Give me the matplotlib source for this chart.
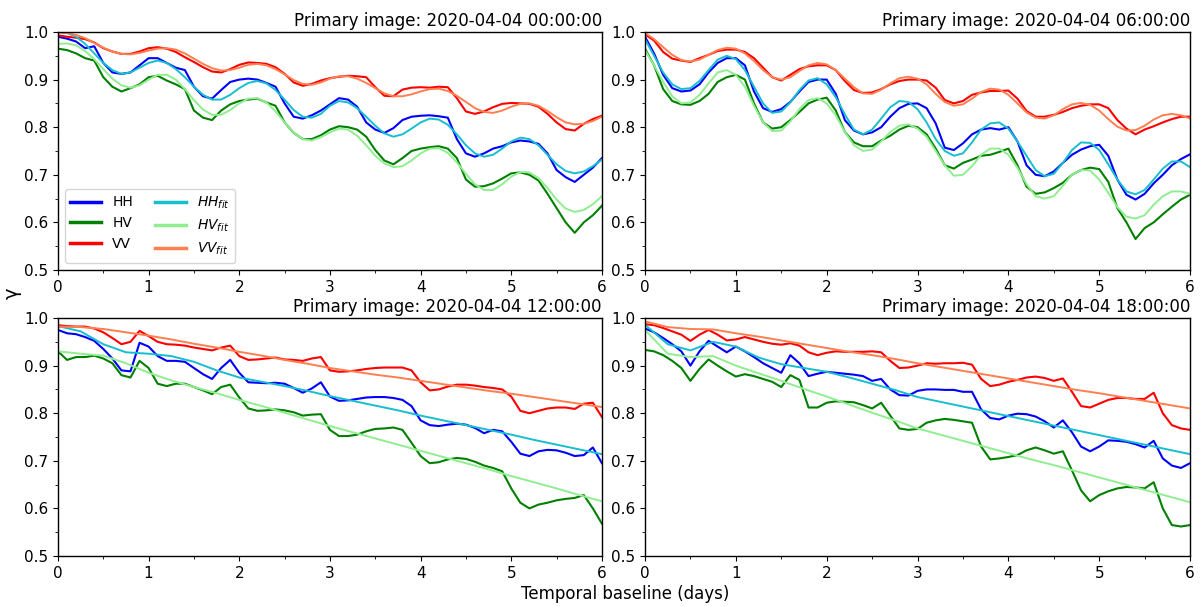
import numpy as np
import matplotlib
matplotlib.use("Agg")
import matplotlib.pyplot as plt
from matplotlib.ticker import MultipleLocator

# time axes (days)
t_obs = np.round(np.arange(61) * 0.1, 2)
t_fit_top = np.round(np.arange(61) * 0.1, 2)
t_fit_bot = np.round(np.arange(25) * 0.25, 2)

titles = ["Primary image: 2020-04-04 00:00:00", "Primary image: 2020-04-04 06:00:00",
          "Primary image: 2020-04-04 12:00:00", "Primary image: 2020-04-04 18:00:00"]

# ---- 00:00 ----
hh_00 = [0.990, 0.986, 0.980, 0.966, 0.970, 0.935, 0.915, 0.912, 0.915, 0.930,
         0.945, 0.945, 0.935, 0.925, 0.920, 0.885, 0.865, 0.860, 0.878, 0.895,
         0.900, 0.902, 0.900, 0.893, 0.885, 0.850, 0.822, 0.818, 0.825, 0.835,
         0.848, 0.861, 0.858, 0.843, 0.810, 0.795, 0.788, 0.798, 0.815, 0.822,
         0.824, 0.825, 0.823, 0.820, 0.775, 0.745, 0.738, 0.745, 0.755, 0.760,
         0.768, 0.772, 0.770, 0.765, 0.745, 0.710, 0.695, 0.685, 0.700, 0.715,
         0.735]
hv_00 = [0.965, 0.962, 0.955, 0.945, 0.940, 0.905, 0.885, 0.875, 0.882, 0.890,
         0.905, 0.908, 0.898, 0.890, 0.880, 0.835, 0.820, 0.815, 0.835, 0.848,
         0.855, 0.858, 0.860, 0.852, 0.845, 0.810, 0.788, 0.775, 0.775, 0.783,
         0.795, 0.802, 0.800, 0.795, 0.780, 0.752, 0.730, 0.722, 0.735, 0.750,
         0.755, 0.758, 0.760, 0.755, 0.735, 0.690, 0.675, 0.676, 0.682, 0.692,
         0.703, 0.705, 0.700, 0.688, 0.660, 0.630, 0.600, 0.578, 0.600, 0.615,
         0.635]
vv_00 = [0.993, 0.990, 0.988, 0.985, 0.978, 0.966, 0.959, 0.954, 0.954, 0.959,
         0.966, 0.968, 0.965, 0.958, 0.947, 0.937, 0.926, 0.917, 0.915, 0.922,
         0.931, 0.936, 0.935, 0.933, 0.926, 0.912, 0.894, 0.887, 0.891, 0.898,
         0.903, 0.906, 0.908, 0.907, 0.905, 0.884, 0.866, 0.865, 0.879, 0.883,
         0.884, 0.883, 0.885, 0.884, 0.861, 0.833, 0.828, 0.833, 0.842, 0.849,
         0.851, 0.850, 0.849, 0.843, 0.828, 0.810, 0.796, 0.793, 0.807, 0.817,
         0.824]
hh_fit_00 = [1.000, 0.998, 0.990, 0.975, 0.955, 0.935, 0.920, 0.912, 0.915, 0.925,
             0.935, 0.940, 0.935, 0.922, 0.905, 0.885, 0.868, 0.858, 0.858, 0.868,
             0.882, 0.893, 0.897, 0.892, 0.878, 0.858, 0.836, 0.822, 0.820, 0.828,
             0.845, 0.855, 0.852, 0.840, 0.822, 0.803, 0.787, 0.780, 0.785, 0.797,
             0.810, 0.818, 0.816, 0.805, 0.785, 0.762, 0.745, 0.738, 0.742, 0.755,
             0.770, 0.778, 0.775, 0.762, 0.742, 0.722, 0.708, 0.703, 0.707, 0.718,
             0.732]
hv_fit_00 = [0.975, 0.976, 0.972, 0.960, 0.943, 0.922, 0.902, 0.888, 0.883, 0.888,
             0.900, 0.910, 0.910, 0.900, 0.880, 0.857, 0.837, 0.826, 0.826, 0.836,
             0.850, 0.860, 0.861, 0.852, 0.833, 0.810, 0.788, 0.775, 0.772, 0.779,
             0.789, 0.797, 0.795, 0.782, 0.762, 0.740, 0.724, 0.716, 0.718, 0.730,
             0.745, 0.755, 0.756, 0.746, 0.726, 0.702, 0.680, 0.668, 0.668, 0.680,
             0.696, 0.706, 0.705, 0.693, 0.672, 0.648, 0.629, 0.622, 0.626, 0.638,
             0.655]
vv_fit_00 = [0.999, 0.998, 0.994, 0.987, 0.977, 0.967, 0.959, 0.954, 0.953, 0.956,
             0.961, 0.965, 0.966, 0.963, 0.955, 0.944, 0.933, 0.924, 0.919, 0.920,
             0.925, 0.931, 0.933, 0.930, 0.922, 0.911, 0.899, 0.891, 0.889, 0.894,
             0.902, 0.907, 0.907, 0.902, 0.893, 0.882, 0.871, 0.865, 0.865, 0.869,
             0.875, 0.880, 0.881, 0.876, 0.866, 0.853, 0.840, 0.832, 0.830, 0.835,
             0.843, 0.849, 0.850, 0.845, 0.834, 0.821, 0.810, 0.806, 0.807, 0.813,
             0.822]

# ---- 06:00 ----
hh_06 = [0.990, 0.955, 0.910, 0.882, 0.875, 0.877, 0.890, 0.915, 0.935, 0.945,
         0.945, 0.930, 0.875, 0.840, 0.832, 0.838, 0.853, 0.875, 0.895, 0.900,
         0.900, 0.870, 0.815, 0.793, 0.785, 0.789, 0.800, 0.822, 0.840, 0.849,
         0.850, 0.840, 0.808, 0.757, 0.752, 0.766, 0.785, 0.795, 0.798, 0.795,
         0.800, 0.770, 0.720, 0.700, 0.697, 0.707, 0.725, 0.742, 0.753, 0.760,
         0.763, 0.740, 0.690, 0.658, 0.648, 0.660, 0.682, 0.700, 0.720, 0.733,
         0.743]
hv_06 = [0.965, 0.930, 0.880, 0.855, 0.848, 0.847, 0.855, 0.870, 0.895, 0.905,
         0.910, 0.900, 0.850, 0.810, 0.797, 0.800, 0.815, 0.832, 0.850, 0.858,
         0.862, 0.835, 0.790, 0.768, 0.760, 0.760, 0.772, 0.782, 0.795, 0.803,
         0.800, 0.785, 0.755, 0.720, 0.713, 0.725, 0.732, 0.740, 0.742, 0.748,
         0.755, 0.720, 0.675, 0.660, 0.663, 0.672, 0.683, 0.700, 0.710, 0.715,
         0.712, 0.685, 0.630, 0.600, 0.565, 0.588, 0.600, 0.617, 0.633, 0.648,
         0.658]
vv_06 = [0.995, 0.982, 0.958, 0.944, 0.940, 0.937, 0.945, 0.952, 0.960, 0.963,
         0.963, 0.958, 0.945, 0.925, 0.905, 0.898, 0.910, 0.922, 0.928, 0.930,
         0.930, 0.920, 0.897, 0.878, 0.872, 0.873, 0.880, 0.890, 0.897, 0.900,
         0.900, 0.898, 0.883, 0.857, 0.850, 0.855, 0.868, 0.873, 0.876, 0.876,
         0.877, 0.860, 0.834, 0.822, 0.822, 0.826, 0.832, 0.840, 0.845, 0.848,
         0.848, 0.840, 0.815, 0.797, 0.785, 0.795, 0.802, 0.810, 0.817, 0.822,
         0.822]
hh_fit_06 = [0.985, 0.950, 0.915, 0.890, 0.880, 0.882, 0.897, 0.920, 0.942, 0.950,
             0.943, 0.920, 0.885, 0.850, 0.830, 0.833, 0.852, 0.878, 0.898, 0.903,
             0.890, 0.863, 0.827, 0.795, 0.785, 0.795, 0.818, 0.842, 0.855, 0.853,
             0.838, 0.810, 0.775, 0.750, 0.740, 0.745, 0.768, 0.795, 0.808, 0.810,
             0.797, 0.770, 0.740, 0.710, 0.697, 0.702, 0.725, 0.752, 0.768, 0.767,
             0.752, 0.722, 0.690, 0.665, 0.659, 0.668, 0.690, 0.713, 0.728, 0.728,
             0.716]
hv_fit_06 = [0.962, 0.930, 0.895, 0.865, 0.850, 0.852, 0.868, 0.892, 0.915, 0.920,
             0.910, 0.885, 0.845, 0.810, 0.792, 0.793, 0.812, 0.838, 0.857, 0.861,
             0.850, 0.825, 0.790, 0.762, 0.750, 0.753, 0.770, 0.790, 0.803, 0.806,
             0.797, 0.780, 0.750, 0.720, 0.698, 0.700, 0.718, 0.742, 0.755, 0.755,
             0.742, 0.715, 0.680, 0.655, 0.650, 0.655, 0.677, 0.700, 0.710, 0.709,
             0.690, 0.662, 0.632, 0.612, 0.608, 0.615, 0.637, 0.655, 0.665, 0.665,
             0.660]
vv_fit_06 = [0.998, 0.985, 0.968, 0.952, 0.941, 0.938, 0.942, 0.952, 0.962, 0.967,
             0.965, 0.955, 0.939, 0.920, 0.905, 0.900, 0.905, 0.918, 0.930, 0.935,
             0.932, 0.920, 0.902, 0.884, 0.871, 0.870, 0.879, 0.892, 0.903, 0.906,
             0.902, 0.890, 0.870, 0.853, 0.845, 0.848, 0.860, 0.874, 0.881, 0.879,
             0.868, 0.850, 0.831, 0.820, 0.818, 0.825, 0.838, 0.848, 0.851, 0.847,
             0.835, 0.817, 0.801, 0.793, 0.794, 0.803, 0.816, 0.825, 0.828, 0.825,
             0.818]

# ---- 12:00 ----
hh_12 = [0.975, 0.968, 0.966, 0.960, 0.952, 0.935, 0.915, 0.890, 0.888, 0.948,
         0.940, 0.920, 0.910, 0.910, 0.908, 0.895, 0.882, 0.872, 0.895, 0.912,
         0.885, 0.865, 0.864, 0.863, 0.864, 0.862, 0.853, 0.843, 0.852, 0.865,
         0.835, 0.826, 0.827, 0.830, 0.833, 0.834, 0.834, 0.832, 0.828, 0.815,
         0.785, 0.775, 0.773, 0.776, 0.778, 0.776, 0.769, 0.758, 0.765, 0.762,
         0.740, 0.715, 0.710, 0.720, 0.723, 0.722, 0.717, 0.710, 0.712, 0.728,
         0.695]
hv_12 = [0.930, 0.912, 0.918, 0.918, 0.921, 0.915, 0.905, 0.880, 0.875, 0.910,
         0.895, 0.862, 0.857, 0.862, 0.862, 0.855, 0.848, 0.840, 0.855, 0.860,
         0.833, 0.810, 0.805, 0.806, 0.808, 0.806, 0.802, 0.795, 0.797, 0.798,
         0.765, 0.752, 0.752, 0.755, 0.762, 0.767, 0.768, 0.770, 0.765, 0.738,
         0.710, 0.695, 0.697, 0.703, 0.706, 0.704, 0.698, 0.690, 0.685, 0.678,
         0.642, 0.612, 0.600, 0.608, 0.612, 0.617, 0.620, 0.622, 0.628, 0.600,
         0.568]
vv_12 = [0.985, 0.983, 0.982, 0.982, 0.978, 0.970, 0.958, 0.945, 0.950, 0.973,
         0.962, 0.950, 0.945, 0.944, 0.942, 0.938, 0.935, 0.932, 0.938, 0.942,
         0.920, 0.912, 0.913, 0.915, 0.917, 0.913, 0.912, 0.910, 0.915, 0.918,
         0.890, 0.887, 0.888, 0.890, 0.893, 0.895, 0.896, 0.896, 0.896, 0.890,
         0.865, 0.848, 0.850, 0.856, 0.860, 0.860, 0.858, 0.855, 0.853, 0.850,
         0.835, 0.805, 0.800, 0.805, 0.810, 0.812, 0.812, 0.809, 0.820, 0.822,
         0.792]
hh_fit_12 = [0.983, 0.972, 0.945, 0.928, 0.925, 0.920, 0.908, 0.890, 0.875, 0.866,
             0.857, 0.847, 0.836, 0.826, 0.816, 0.806, 0.795, 0.785, 0.775, 0.765,
             0.755, 0.744, 0.734, 0.724, 0.714]
hv_fit_12 = [0.930, 0.925, 0.921, 0.905, 0.885, 0.869, 0.855, 0.842, 0.828, 0.815,
             0.801, 0.787, 0.773, 0.760, 0.747, 0.734, 0.721, 0.708, 0.695, 0.682,
             0.668, 0.655, 0.642, 0.628, 0.615]
vv_fit_12 = [0.982, 0.981, 0.977, 0.970, 0.963, 0.955, 0.946, 0.938, 0.929, 0.921,
             0.912, 0.904, 0.895, 0.888, 0.881, 0.875, 0.868, 0.861, 0.854, 0.847,
             0.841, 0.834, 0.827, 0.820, 0.813]

# ---- 18:00 ----
hh_18 = [0.978, 0.970, 0.958, 0.945, 0.930, 0.900, 0.930, 0.952, 0.940, 0.928,
         0.940, 0.930, 0.918, 0.905, 0.895, 0.885, 0.922, 0.905, 0.878, 0.883,
         0.887, 0.885, 0.883, 0.881, 0.878, 0.868, 0.872, 0.850, 0.838, 0.837,
         0.847, 0.850, 0.850, 0.849, 0.849, 0.845, 0.845, 0.808, 0.790, 0.787,
         0.795, 0.799, 0.798, 0.793, 0.783, 0.770, 0.785, 0.760, 0.730, 0.720,
         0.730, 0.743, 0.742, 0.740, 0.735, 0.728, 0.742, 0.705, 0.690, 0.685,
         0.695]
hv_18 = [0.933, 0.930, 0.922, 0.910, 0.895, 0.868, 0.893, 0.913, 0.900, 0.888,
         0.877, 0.882, 0.878, 0.872, 0.866, 0.855, 0.880, 0.870, 0.812, 0.812,
         0.822, 0.825, 0.824, 0.823, 0.817, 0.810, 0.822, 0.795, 0.768, 0.765,
         0.767, 0.780, 0.785, 0.788, 0.786, 0.783, 0.780, 0.730, 0.703, 0.705,
         0.708, 0.712, 0.722, 0.728, 0.722, 0.715, 0.720, 0.680, 0.638, 0.615,
         0.628, 0.636, 0.642, 0.645, 0.644, 0.642, 0.655, 0.600, 0.565, 0.562,
         0.565]
vv_18 = [0.987, 0.985, 0.979, 0.972, 0.965, 0.952, 0.965, 0.975, 0.965, 0.953,
         0.955, 0.960, 0.955, 0.950, 0.946, 0.944, 0.947, 0.942, 0.928, 0.922,
         0.927, 0.930, 0.929, 0.929, 0.929, 0.930, 0.928, 0.910, 0.895, 0.896,
         0.900, 0.905, 0.904, 0.905, 0.905, 0.906, 0.902, 0.872, 0.857, 0.860,
         0.866, 0.870, 0.875, 0.877, 0.874, 0.868, 0.873, 0.845, 0.815, 0.812,
         0.820, 0.828, 0.832, 0.832, 0.830, 0.830, 0.843, 0.800, 0.775, 0.768,
         0.765]
hh_fit_18 = [0.986, 0.945, 0.932, 0.950, 0.940, 0.917, 0.903, 0.895, 0.887, 0.875,
             0.862, 0.849, 0.834, 0.824, 0.814, 0.804, 0.794, 0.784, 0.774, 0.764,
             0.754, 0.744, 0.734, 0.724, 0.714]
hv_fit_18 = [0.975, 0.925, 0.918, 0.920, 0.900, 0.884, 0.868, 0.851, 0.835, 0.818,
             0.801, 0.785, 0.768, 0.755, 0.742, 0.729, 0.716, 0.703, 0.691, 0.678,
             0.665, 0.652, 0.639, 0.626, 0.613]
vv_fit_18 = [0.993, 0.981, 0.977, 0.976, 0.968, 0.961, 0.953, 0.945, 0.937, 0.929,
             0.922, 0.914, 0.905, 0.897, 0.889, 0.881, 0.873, 0.865, 0.857, 0.849,
             0.842, 0.834, 0.826, 0.818, 0.810]

panels = [
    (hh_00, hv_00, vv_00, hh_fit_00, hv_fit_00, vv_fit_00, t_fit_top),
    (hh_06, hv_06, vv_06, hh_fit_06, hv_fit_06, vv_fit_06, t_fit_top),
    (hh_12, hv_12, vv_12, hh_fit_12, hv_fit_12, vv_fit_12, t_fit_bot),
    (hh_18, hv_18, vv_18, hh_fit_18, hv_fit_18, vv_fit_18, t_fit_bot),
]

# axes boxes in figure fraction (left, bottom, width, height)
boxes = [[0.0483, 0.5545, 0.4533, 0.3927], [0.5375, 0.5545, 0.4542, 0.3927],
         [0.0483, 0.0825, 0.4533, 0.3927], [0.5375, 0.0825, 0.4542, 0.3927]]

fig = plt.figure(figsize=(12, 6.06), dpi=100)

for i, (hh, hv, vv, hhf, hvf, vvf, tf) in enumerate(panels):
    ax = fig.add_axes(boxes[i])
    ax.plot(t_obs, hh, color="blue", lw=1.5, label="HH")
    ax.plot(t_obs, hv, color="green", lw=1.5, label="HV")
    ax.plot(t_obs, vv, color="red", lw=1.5, label="VV")
    ax.plot(tf, hhf, color="#17becf", lw=1.4, label="$HH_{fit}$")
    ax.plot(tf, hvf, color="lightgreen", lw=1.4, label="$HV_{fit}$")
    ax.plot(tf, vvf, color="coral", lw=1.4, label="$VV_{fit}$")
    ax.set_xlim(0, 6)
    ax.set_ylim(0.5, 1.0)
    ax.xaxis.set_major_locator(MultipleLocator(1))
    ax.xaxis.set_minor_locator(MultipleLocator(0.5))
    ax.yaxis.set_major_locator(MultipleLocator(0.1))
    ax.yaxis.set_minor_locator(MultipleLocator(0.05))
    ax.tick_params(labelsize=11)
    for sp in ax.spines.values():
        sp.set_linewidth(1.0)
    ax.set_title(titles[i], loc="right", fontsize=12, pad=4)
    if i == 0:
        leg = ax.legend(loc="lower left", ncol=2, fontsize=10, handlelength=2.2,
                        columnspacing=1.6)
        for ln in leg.get_lines():
            ln.set_linewidth(2.5)

fig.text(0.521, 0.02, "Temporal baseline (days)", ha="center", va="center", fontsize=12)
fig.text(0.01, 0.516, "γ", ha="center", va="center", fontsize=14, rotation=90)

fig.savefig("out.png", dpi=100)
